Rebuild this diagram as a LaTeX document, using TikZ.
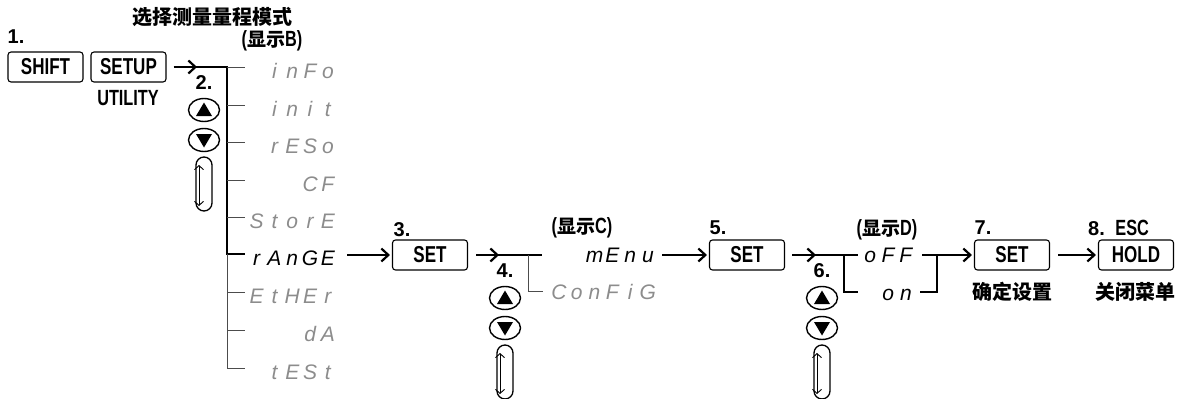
\documentclass[tikz,border=0pt]{standalone}
\usepackage{fontspec}
\setmainfont{Liberation Sans}
\newfontfamily\cond[FakeStretch=0.74]{Liberation Sans}
\newfontfamily\cjk{Noto Sans CJK SC}
\newfontfamily\segf{Liberation Sans}
\usetikzlibrary{arrows.meta,shapes.geometric}
\definecolor{segoff}{gray}{0.55}
\definecolor{tickgray}{gray}{0.3}
\newcommand\zh[1]{{\cjk\bfseries\fontsize{19}{19}\selectfont #1}}
\def\segtxt#1{\segloop#1\relax}
\def\segloop#1{\ifx\relax#1\else\makebox[17.8pt][c]{#1}\expandafter\segloop\fi}
\tikzset{
  keybox/.style={draw, line width=1.1pt, rounded corners=3pt, minimum width=75pt,
    minimum height=30pt, inner sep=0pt, font=\cond\bfseries\fontsize{23}{23}\selectfont},
  lbl/.style={inner sep=0pt, font=\cond\bfseries\fontsize{22}{22}\selectfont},
  num/.style={inner sep=0pt, font=\bfseries\fontsize{20}{20}\selectfont},
  zhlbl/.style={inner sep=0pt, font=\cjk\bfseries\fontsize{20}{20}\selectfont},
  segoffst/.style={inner sep=0pt, anchor=base east, text=segoff,
    font=\segf\itshape\fontsize{21}{21}\selectfont},
  segonst/.style={segoffst, text=black},
  flow/.style={line width=2.4pt, -{Straight Barb[length=7pt,width=13pt,line width=2.2pt]}},
  bus/.style={line width=2.4pt},
  tick/.style={line width=1pt, draw=tickgray},
  btn/.style={draw, ellipse, line width=1.4pt, minimum width=31pt, minimum height=23pt, inner sep=0pt},
  pill/.style={draw, line width=1.3pt, rounded corners=8pt, minimum width=16pt,
    minimum height=54pt, inner sep=0pt},
  dbl/.style={line width=0.9pt, {Straight Barb[length=4pt,width=9pt]}-{Straight Barb[length=4pt,width=9pt]}}
}
% knob group: #1 name, #2 label, #3 x, #4 line y
\newcommand\knobs[4]{%
  \node[num] (#1n) at (#3,#4+16) {#2};
  \node[btn] (#1u) at (#3,#4+43) {};
  \node[btn] (#1d) at (#3,#4+73) {};
  \node[pill] (#1p) at (#3,#4+117) {};
  \fill ([shift={(-8,6)}]#1u.center) -- ([shift={(8,6)}]#1u.center) -- ([shift={(0,-7.5)}]#1u.center) -- cycle;
  \fill ([shift={(-8,-6)}]#1d.center) -- ([shift={(8,-6)}]#1d.center) -- ([shift={(0,7.5)}]#1d.center) -- cycle;
  \draw[dbl] ([shift={(-5,-19)}]#1p.center) -- ([shift={(-5,22)}]#1p.center);
}
\begin{document}
\begin{tikzpicture}[x=1pt,y=-1pt]
\useasboundingbox (0,0) rectangle (1181,399);

% ---- step 1
\node[zhlbl] (title) at (212,17) {选择测量量程模式};
\node[lbl] (dispB) at (272,41) {(\zh{显示}B)};
\node[num] (n1) at (16,37) {1.};
\node[keybox] (shift) at (45.5,67) {SHIFT};
\node[keybox] (setup) at (128.5,67) {SETUP};
\node[lbl] (util) at (128,98) {UTILITY};

% ---- step 2 list
\coordinate (b2a) at (189,67);
\coordinate (b2top) at (227,67);
\coordinate (b2rng) at (227,254);
\coordinate (b2bot) at (227,368);
\draw[flow] ([xshift=7pt]setup.east) -- (197,67);
\draw[bus] (b2a) -- (b2top) -- (b2rng) -- ++(18,0);
\draw[tick] (b2rng) -- (b2bot);
\foreach \y in {67,105,142,180,217,292,330,368} \draw[tick] (227,\y) -- (245,\y);
\node[segoffst] (i1) at (337,67+11)  {\segtxt{inFo}};
\node[segoffst] (i2) at (337,105+11) {\segtxt{init}};
\node[segoffst] (i3) at (337,142+11) {\segtxt{rESo}};
\node[segoffst] (i4) at (337,180+11) {\segtxt{CF}};
\node[segoffst] (i5) at (337,217+11) {\segtxt{StorE}};
\node[segonst]  (rng) at (337,254+11) {\segtxt{rAnGE}};
\node[segoffst] (i7) at (337,292+11) {\segtxt{EtHEr}};
\node[segoffst] (i8) at (337,330+11) {\segtxt{dA}};
\node[segoffst] (i9) at (337,368+11) {\segtxt{tESt}};
\knobs{k2}{2.}{204}{67}

% ---- step 3
\node[keybox] (set3) at (430,255) {SET};
\node[num] (n3) at (402,230) {3.};
\draw[flow] ([xshift=10pt]rng.east |- set3.west) -- ([xshift=-2pt]set3.west);

% ---- step 4
\coordinate (b4a) at (490,255);
\coordinate (b4end) at (542,255);
\coordinate (b4br) at (528,255);
\coordinate (b4bot) at (528,291);
\draw[flow] ([xshift=8pt]set3.east) -- (499,255);
\draw[bus] (b4a) -- (b4end);
\draw[tick] (b4br) -- (b4bot) -- ++(15,0);
\knobs{k4}{4.}{505}{255}
\node[lbl] (dispC) at (582,228) {(\zh{显示}C)};
\node[segonst] (menu) at (657,255+7) {\segtxt{mEnu}};
\node[segoffst] (conf) at (657,291+8) {\segtxt{ConFiG}};

% ---- step 5
\node[keybox] (set5) at (747,255) {SET};
\node[num] (n5) at (718,228) {5.};
\draw[flow] ([xshift=5pt]menu.east |- set5.west) -- ([xshift=-2pt]set5.west);

% ---- step 6
\coordinate (b6a) at (808,255);
\coordinate (b6end) at (858,255);
\coordinate (b6br) at (844,255);
\coordinate (b6bot) at (844,292);
\draw[flow] ([xshift=7pt]set5.east) -- (816,255);
\draw[bus] (b6a) -- (b6end);
\draw[bus] (b6br) -- (b6bot) -- ++(14,0);
\knobs{k6}{6.}{822}{255}
\node[lbl] (dispD) at (887,230) {(\zh{显示}D)};
\node[segonst] (off) at (915,255+7) {\segtxt{oFF}};
\node[segonst] (on) at (915,292+8) {\segtxt{on}};
\coordinate (r6top) at (937,255);
\coordinate (r6bot) at (937,292);
\draw[bus] ([xshift=7pt]off.east |- r6top) -- (r6top) -- (r6bot) -- ([xshift=5pt]on.east |- r6bot);

% ---- step 7
\node[keybox] (set7) at (1012,255) {SET};
\node[num] (n7) at (983,228) {7.};
\node[zhlbl] (conf7) at (1012,292) {确定设置};
\draw[flow] ([xshift=-1.2pt]r6top) -- ([xshift=-2pt]set7.west);

% ---- step 8
\node[keybox] (hold) at (1136,255) {HOLD};
\node[lbl, anchor=west] (n8) at (1088,228) {{\normalfont\bfseries\fontsize{20}{20}\selectfont 8.}~ ESC};
\node[zhlbl] (close8) at (1135,292) {关闭菜单};
\draw[flow] ([xshift=8pt]set7.east) -- ([xshift=-2pt]hold.west);
\end{tikzpicture}
\end{document}
